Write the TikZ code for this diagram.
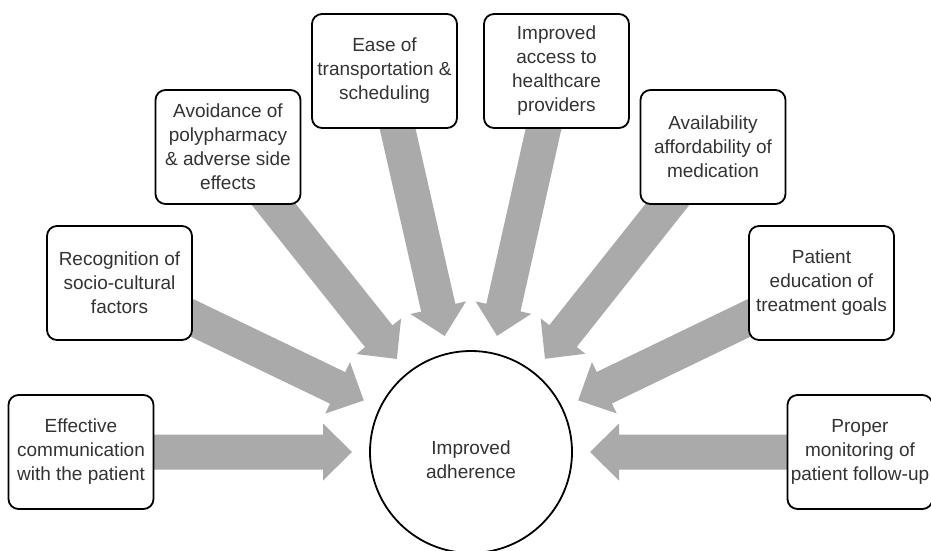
\documentclass[tikz,border=0pt]{standalone}
\usepackage{fontspec}
\setmainfont{Liberation Sans}
\usetikzlibrary{calc,backgrounds}

\definecolor{arrowgrey}{RGB}{170,170,170}
\definecolor{inkgrey}{RGB}{51,51,51}

\tikzset{
  labelfont/.style={text=inkgrey, font=\fontsize{19}{24}\selectfont},
  factorbox/.style={labelfont, draw=black, line width=1.8pt, rounded corners=10pt,
    fill=white, minimum width=145pt, minimum height=114pt, align=center, inner sep=2pt},
  goal/.style={draw=black, line width=1.8pt, circle, minimum size=202pt,
    fill=white, inner sep=0pt},
  goaltext/.style={labelfont, align=center},
  arrowbody/.style={fill=arrowgrey, draw=none}
}

% Block arrow from a factor box towards the goal circle:
% shaft 35pt wide, head 57pt wide and 29pt long, tip 119pt from the circle centre.
\newcommand\blockarrow[2]{%
  \coordinate (#1-tip) at ($(#2.center)!119pt!(#1.center)$);
  \coordinate (#1-neck) at ($(#1-tip)!29pt!(#1.center)$);
  \fill[arrowbody]
    ($(#1.center)!17.5pt!90:(#1-tip)$) --
    ($(#1-neck)!17.5pt!90:(#1-tip)$) --
    ($(#1-neck)!28.5pt!90:(#1-tip)$) --
    (#1-tip) --
    ($(#1-neck)!28.5pt!-90:(#1-tip)$) --
    ($(#1-neck)!17.5pt!-90:(#1-tip)$) --
    ($(#1.center)!17.5pt!-90:(#1-tip)$) -- cycle;
}

\begin{document}
\begin{tikzpicture}[x=1pt, y=-1pt]
  \useasboundingbox (0,0) rectangle (931,550);

  % central outcome
  \node[goal] (goal) at (471,452) {};
  \node[goaltext] (goallabel) at (471,460) {Improved\\adherence};

  % contributing factors
  \node[factorbox] (comm)    at (81,452)    {Effective\\communication\\with the patient};
  \node[factorbox] (socio)   at (119.5,283) {Recognition of\\socio-cultural\\factors};
  \node[factorbox] (poly)    at (228,147)   {Avoidance of\\polypharmacy\\\& adverse side\\effects};
  \node[factorbox] (transp)  at (384.5,71)  {Ease of\\transportation \&\\scheduling};
  \node[factorbox] (access)  at (556.5,71)  {Improved\\access to\\healthcare\\providers};
  \node[factorbox] (meds)    at (713,147)   {Availability\\affordability of\\medication};
  \node[factorbox] (educ)    at (821.5,283) {Patient\\education of\\treatment goals};
  \node[factorbox] (monitor) at (860,452)   {Proper\\monitoring of\\patient follow-up};

  % arrows run underneath the boxes
  \begin{pgfonlayer}{background}
    \foreach \src in {comm,socio,poly,transp,access,meds,educ,monitor}
      {\blockarrow{\src}{goal}}
  \end{pgfonlayer}
\end{tikzpicture}
\end{document}
